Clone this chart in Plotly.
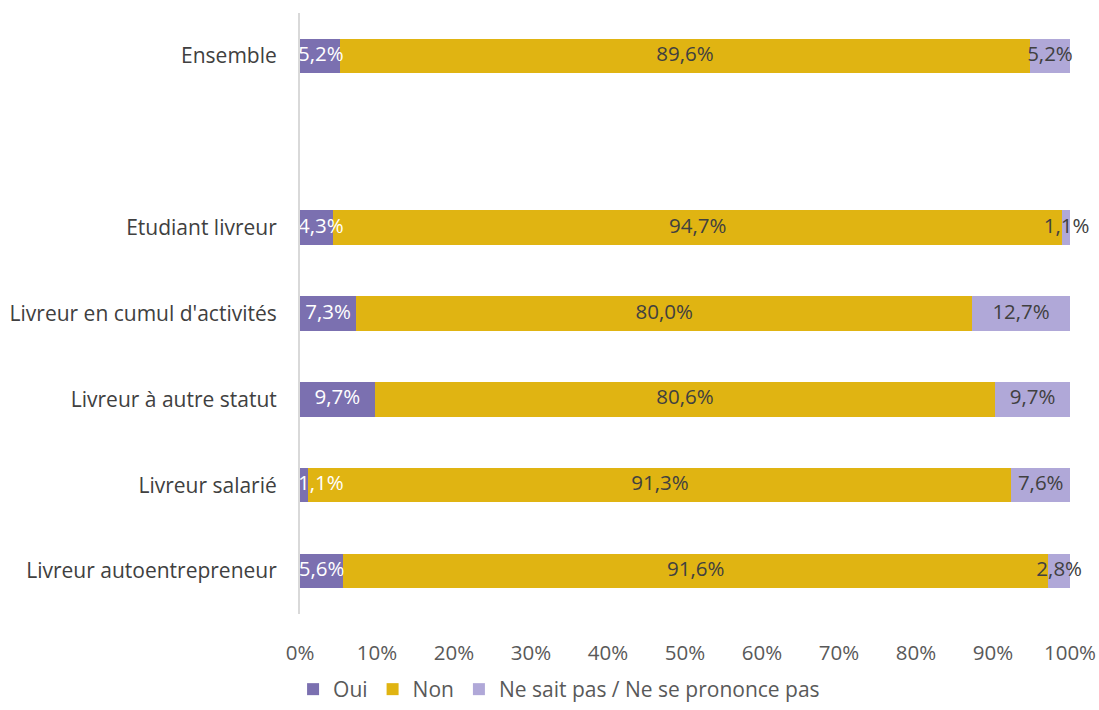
import plotly.graph_objects as go

categories = ["Ensemble", " ", "Etudiant livreur", "Livreur en cumul d'activités",
              "Livreur à autre statut", "Livreur salarié", "Livreur autoentrepreneur"]
oui = [5.2, None, 4.3, 7.3, 9.7, 1.1, 5.6]
non = [89.6, None, 94.7, 80.0, 80.6, 91.3, 91.6]
nsp = [5.2, None, 1.1, 12.7, 9.7, 7.6, 2.8]
series_names = ["Oui", "Non", "Ne sait pas / Ne se prononce pas"]
colors = ["#7b70b0", "#e0b412", "#b0a8d8"]
text_colors = ["#ffffff", "#404040", "#404040"]
tick_vals = [0, 10, 20, 30, 40, 50, 60, 70, 80, 90, 100]
tick_text = [f"{v}%" for v in tick_vals]

FONT = "Open Sans"
FS = 20.5
LABEL_MIN_X = 2.7  # labels are kept inside the plot area on the left (as Excel does)

fig = go.Figure()
series = [oui, non, nsp]
for name, vals, col in zip(series_names, series, colors):
    fig.add_trace(go.Bar(
        y=categories, x=[v if v is not None else 0 for v in vals],
        name=name, orientation="h", marker=dict(color=col, line=dict(width=0)),
        width=0.4, hoverinfo="skip"))

# labels at segment centres
cum = [0.0] * len(categories)
for vals, tc in zip(series, text_colors):
    xs, ys, ts = [], [], []
    for i, v in enumerate(vals):
        if v is None:
            continue
        xs.append(max(cum[i] + v / 2, LABEL_MIN_X))
        ys.append(categories[i])
        ts.append(f"{v:.1f}%".replace(".", ","))
        cum[i] += v
    fig.add_trace(go.Scatter(x=xs, y=ys, text=ts, mode="text",
                             textfont=dict(family=FONT, size=FS, color=tc),
                             showlegend=False, cliponaxis=False, hoverinfo="skip"))

fig.update_layout(
    barmode="stack",
    width=1099, height=710,
    margin=dict(l=300, r=29, t=13, b=96),
    paper_bgcolor="white", plot_bgcolor="white",
    font=dict(family=FONT, size=FS, color="#595959"),
    showlegend=True,
    legend=dict(orientation="h", x=-0.009, xanchor="left",
                yref="container", y=0.0, yanchor="bottom",
                font=dict(family=FONT, size=21, color="#595959"),
                traceorder="normal"),
    xaxis=dict(range=[0, 100], tickvals=tick_vals, ticktext=tick_text,
               showgrid=False, zeroline=False, showline=False, ticks="",
               ticklabelstandoff=24, fixedrange=True, automargin=False),
    yaxis=dict(categoryorder="array", categoryarray=categories[::-1],
               showgrid=False, zeroline=False, showline=True, linecolor="#d9d9d9",
               linewidth=2, ticks="", ticklabelstandoff=17, automargin=False,
               fixedrange=True,
               tickfont=dict(family=FONT, size=21, color="#404040")),
)
fig.write_html("out.html", config={"displayModeBar": False},
               post_script="document.body.style.margin='0';")
